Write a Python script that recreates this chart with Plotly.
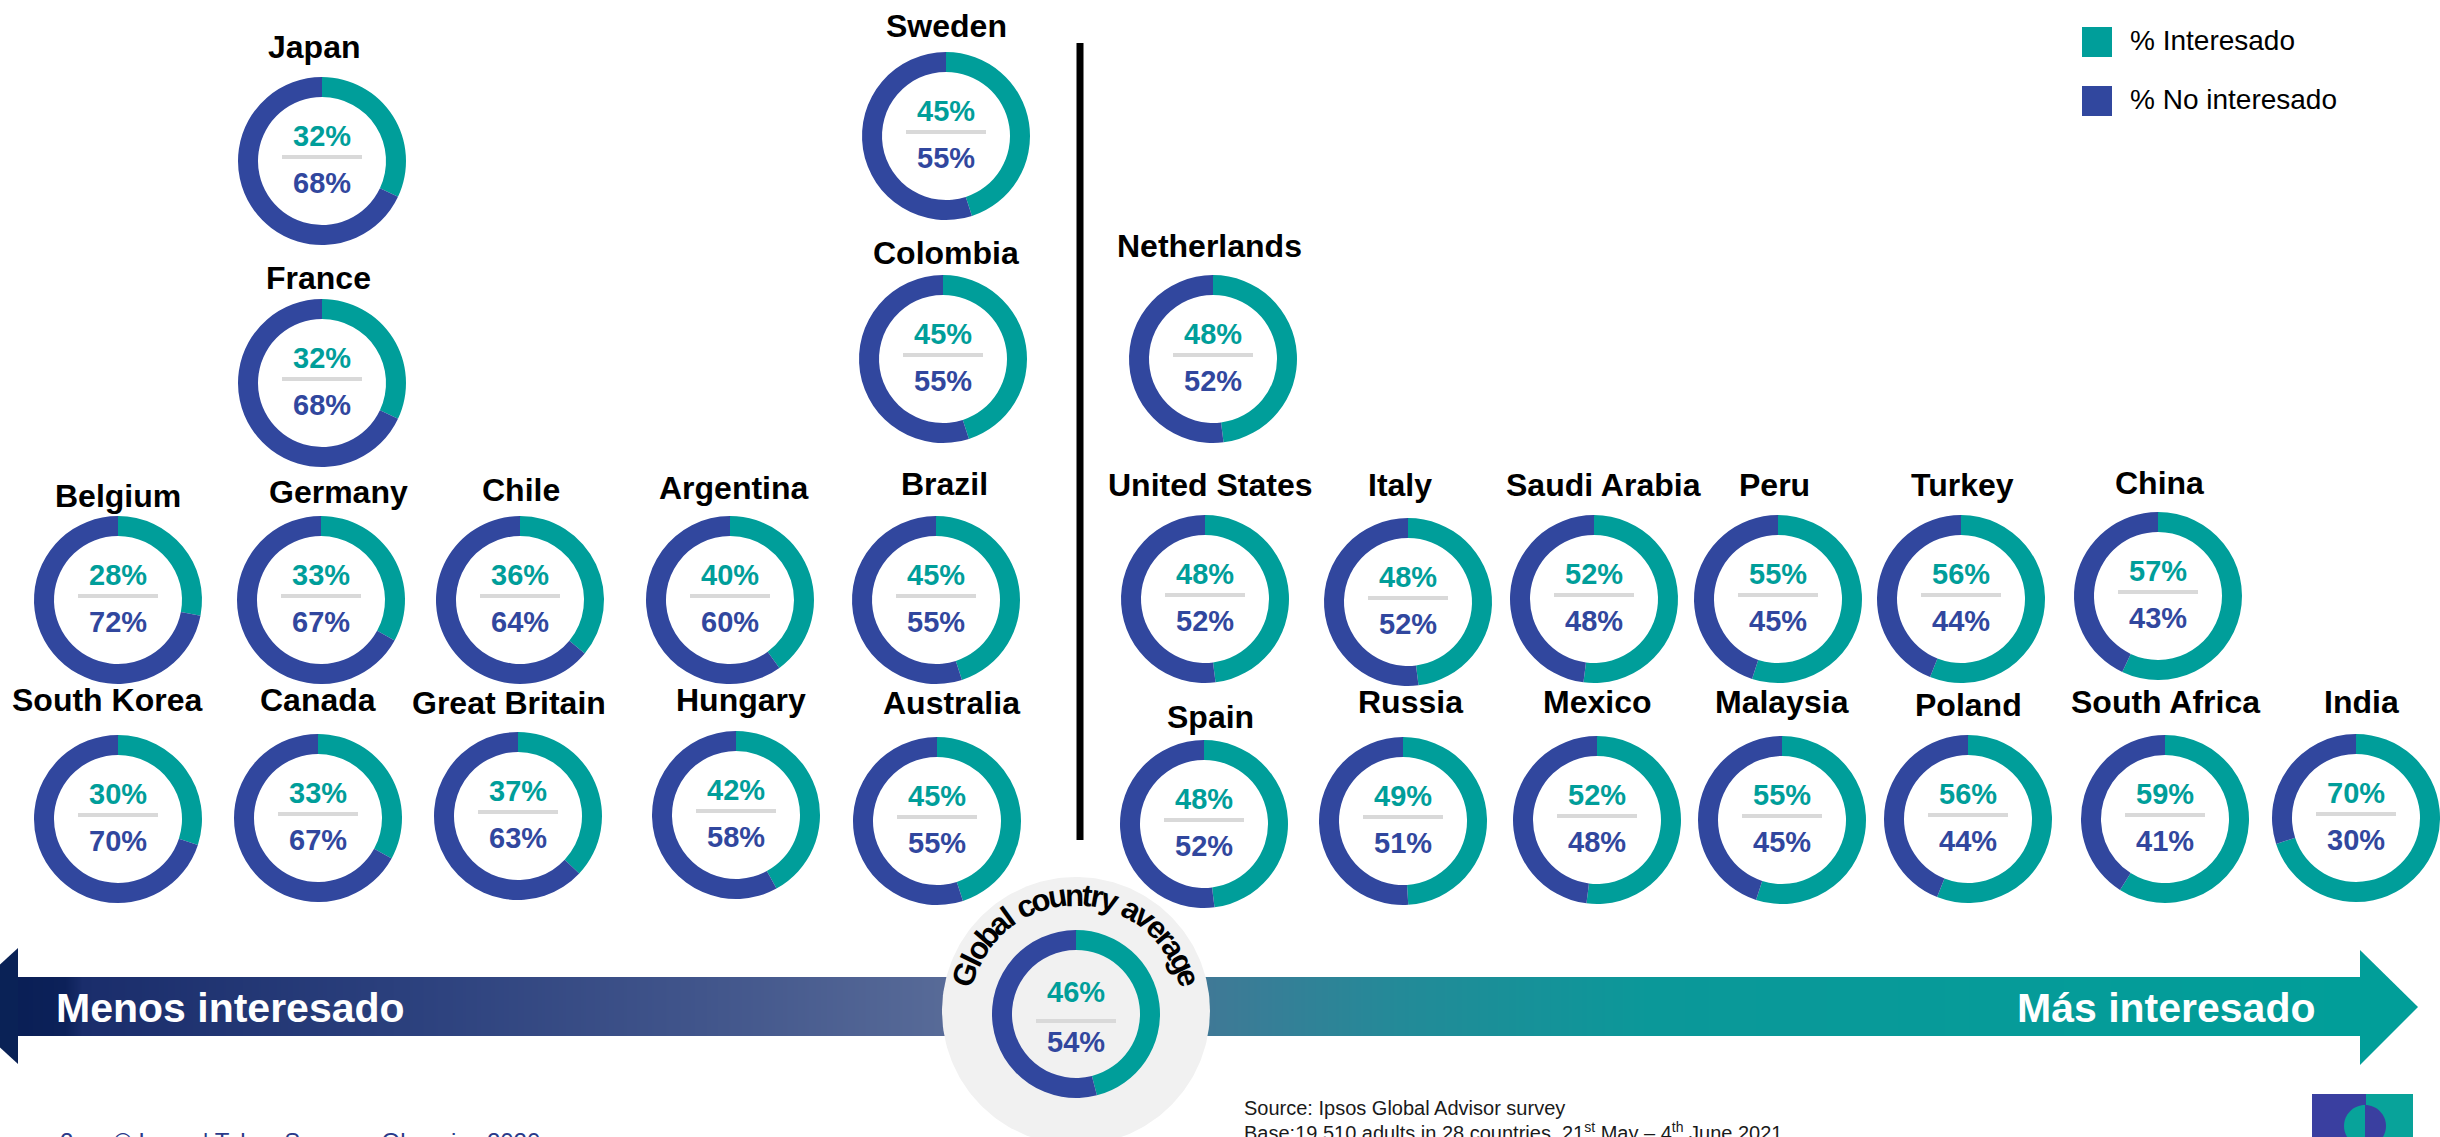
import math
import numpy as np
import plotly.graph_objects as go

# ---------------- data ----------------
countries = ["Japan", "France", "Sweden", "Colombia", "Netherlands",
             "Belgium", "Germany", "Chile", "Argentina", "Brazil",
             "United States", "Italy", "Saudi Arabia", "Peru", "Turkey", "China",
             "South Korea", "Canada", "Great Britain", "Hungary", "Australia",
             "Spain", "Russia", "Mexico", "Malaysia", "Poland", "South Africa", "India"]
interesado = [32, 32, 45, 45, 48,
              28, 33, 36, 40, 45,
              48, 48, 52, 55, 56, 57,
              30, 33, 37, 42, 45,
              48, 49, 52, 55, 56, 59, 70]
no_interesado = [68, 68, 55, 55, 52,
                 72, 67, 64, 60, 55,
                 52, 52, 48, 45, 44, 43,
                 70, 67, 63, 58, 55,
                 52, 51, 48, 45, 44, 41, 30]
global_label = "Global country average"
global_interesado = 46
global_no_interesado = 54
legend_labels = ["% Interesado", "% No interesado"]
arrow_left_text = "Menos interesado"
arrow_right_text = "Más interesado"
source_lines = ["Source: Ipsos Global Advisor survey",
                "Base:19,510 adults in 28 countries, 21<sup>st</sup> May – 4<sup>th</sup> June 2021"]
footer_text = "© Ipsos | Tokyo Summer Olympics 2020"

# ---------------- layout (pixel positions) ----------------
W, H = 2440, 1137
TEAL = "#009e9a"
NAVY = "#31479e"
R = 84
HOLE = 0.762
FONT = "Arial, Liberation Sans, sans-serif"

# donut centre (cx, cy) and label centre (lx, ly)
pos = {
    "Japan": (322, 161, 314, 47),
    "France": (322, 383, 318, 278),
    "Sweden": (946, 136, 946, 26),
    "Colombia": (943, 359, 946, 253),
    "Netherlands": (1213, 359, 1209, 246),
    "Belgium": (118, 600, 118, 496),
    "Germany": (321, 600, 338, 492),
    "Chile": (520, 600, 521, 490),
    "Argentina": (730, 600, 734, 488),
    "Brazil": (936, 600, 944, 484),
    "United States": (1205, 599, 1210, 485),
    "Italy": (1408, 602, 1400, 485),
    "Saudi Arabia": (1594, 599, 1603, 485),
    "Peru": (1778, 599, 1774, 485),
    "Turkey": (1961, 599, 1962, 485),
    "China": (2158, 596, 2159, 483),
    "South Korea": (118, 819, 107, 700),
    "Canada": (318, 818, 318, 700),
    "Great Britain": (518, 816, 509, 703),
    "Hungary": (736, 815, 741, 700),
    "Australia": (937, 821, 951, 703),
    "Spain": (1204, 824, 1210, 717),
    "Russia": (1403, 821, 1410, 702),
    "Mexico": (1597, 820, 1597, 702),
    "Malaysia": (1782, 820, 1782, 702),
    "Poland": (1968, 819, 1968, 705),
    "South Africa": (2165, 819, 2165, 702),
    "India": (2356, 818, 2361, 702),
}
GX, GY = 1076, 1014  # global donut centre

fig = go.Figure()

# ---- gradient arrow band (decoration) ----
band_x0, band_x1, band_y0, band_y1 = 18, 2362, 977, 1036
ncol = 400
edges = np.linspace(band_x0, band_x1, ncol + 1)
zrow = [list(np.linspace(0, 1, ncol))]


def frac(px):
    return (px - band_x0) / (band_x1 - band_x0)


cscale = [
    [0.0, "#0a1f56"],
    [frac(62), "#0c2159"],
    [frac(80), "#1a2d6b"],
    [frac(400), "#2b407d"],
    [frac(700), "#41558b"],
    [frac(950), "#586b98"],
    [frac(1076), "#566e99"],
    [frac(1210), "#3f7996"],
    [frac(1400), "#238a98"],
    [frac(1650), "#0b9899"],
    [1.0, "#019e99"],
]
fig.add_trace(go.Heatmap(x=edges, y=[band_y0, band_y1], z=zrow, colorscale=cscale,
                         showscale=False, hoverinfo="skip", zsmooth="best",
                         xaxis="x", yaxis="y"))

# grey disc behind global average
th = np.linspace(0, 2 * np.pi, 240)
fig.add_trace(go.Scatter(x=GX + 134 * np.cos(th), y=GY - 3 + 134 * np.sin(th),
                         mode="lines", fill="toself", fillcolor="#f1f1f1",
                         line=dict(width=0, color="#f1f1f1"), hoverinfo="skip",
                         showlegend=False))


def add_donut(cx, cy, vi, vn, name):
    fig.add_trace(go.Pie(
        values=[vi, vn], labels=legend_labels, name=name,
        marker=dict(colors=[TEAL, NAVY], line=dict(width=0)),
        hole=HOLE, sort=False, direction="clockwise", rotation=0,
        textinfo="none", showlegend=False,
        hovertemplate=name + "<br>%{label}: %{value}%<extra></extra>",
        domain=dict(x=[(cx - R) / W, (cx + R) / W],
                    y=[1 - (cy + R) / H, 1 - (cy - R) / H]),
    ))


shapes = []
annotations = []


def add_center_text(cx, cy, vi, vn, dt=-25, db=22, dl=-4):
    shapes.append(dict(type="line", xref="x", yref="y", x0=cx - 40, x1=cx + 40,
                       y0=cy + dl, y1=cy + dl, line=dict(color="#d9d9d9", width=4),
                       layer="above"))
    annotations.append(dict(x=cx, y=cy + dt, xref="x", yref="y", text=f"<b>{vi}%</b>",
                            showarrow=False, font=dict(family=FONT, size=29, color=TEAL),
                            xanchor="center", yanchor="middle"))
    annotations.append(dict(x=cx, y=cy + db, xref="x", yref="y", text=f"<b>{vn}%</b>",
                            showarrow=False, font=dict(family=FONT, size=29, color=NAVY),
                            xanchor="center", yanchor="middle"))


for c, vi, vn in zip(countries, interesado, no_interesado):
    cx, cy, lx, ly = pos[c]
    add_donut(cx, cy, vi, vn, c)
    add_center_text(cx, cy, vi, vn)
    annotations.append(dict(x=lx, y=ly, xref="x", yref="y", text=f"<b>{c}</b>",
                            showarrow=False, font=dict(family=FONT, size=32, color="#000000"),
                            xanchor="center", yanchor="middle"))

# global donut
add_donut(GX, GY, global_interesado, global_no_interesado, global_label)
add_center_text(GX, GY, global_interesado, global_no_interesado, dt=-22, db=28, dl=7)

# curved label around global donut
cw = {"G": .778, "l": .278, "o": .611, "b": .611, "a": .556, " ": .278, "c": .556,
      "u": .611, "n": .611, "t": .333, "r": .389, "y": .556, "v": .556, "e": .556, "g": .611}
fs = 31
rad = 117
start_deg, end_deg = 161, 17
adv = [cw.get(ch, .556) * fs for ch in global_label]
centers = []
s = 0
for i, a in enumerate(adv):
    centers.append(s + a / 2)
    s += a
span = centers[-1] - centers[0]
scale = math.radians(start_deg - end_deg) * rad / span
for ch, c0 in zip(global_label, centers):
    if ch == " ":
        continue
    ang = start_deg - math.degrees((c0 - centers[0]) * scale / rad)
    x = GX + rad * math.cos(math.radians(ang))
    y = GY - 2 - rad * math.sin(math.radians(ang))
    annotations.append(dict(x=x, y=y, xref="x", yref="y", text=f"<b>{ch}</b>",
                            showarrow=False, textangle=90 - ang,
                            font=dict(family=FONT, size=fs, color="#000000"),
                            xanchor="center", yanchor="middle"))

# arrow heads
shapes.append(dict(type="path", xref="x", yref="y", path="M 18 948 L 18 1064 L -45 1006 Z",
                   fillcolor="#0a2256", line=dict(width=0), layer="below"))
shapes.append(dict(type="path", xref="x", yref="y", path="M 2360 950 L 2360 1065 L 2418 1007 Z",
                   fillcolor="#019e99", line=dict(width=0), layer="below"))

annotations.append(dict(x=54, y=1008, xref="x", yref="y", text=f"<b>{arrow_left_text}</b>",
                        showarrow=False, font=dict(family=FONT, size=41, color="white"),
                        xanchor="left", yanchor="middle"))
annotations.append(dict(x=2318, y=1008, xref="x", yref="y", text=f"<b>{arrow_right_text}</b>",
                        showarrow=False, font=dict(family=FONT, size=41, color="white"),
                        xanchor="right", yanchor="middle"))

# vertical divider
shapes.append(dict(type="line", xref="x", yref="y", x0=1080, x1=1080, y0=43, y1=840,
                   line=dict(color="#000000", width=7), layer="above"))

# legend
for i, (lab, col) in enumerate(zip(legend_labels, [TEAL, NAVY])):
    y0 = 27 + i * 59
    shapes.append(dict(type="rect", xref="x", yref="y", x0=2082, x1=2112, y0=y0, y1=y0 + 30,
                       fillcolor=col, line=dict(width=0), layer="above"))
    annotations.append(dict(x=2128, y=y0 + 13, xref="x", yref="y", text=lab, showarrow=False,
                            font=dict(family=FONT, size=28, color="#000000"),
                            xanchor="left", yanchor="middle"))

# source
for i, line in enumerate(source_lines):
    annotations.append(dict(x=1242, y=1108 + i * 23, xref="x", yref="y", text=line,
                            showarrow=False, font=dict(family=FONT, size=20, color="#1a1a1a"),
                            xanchor="left", yanchor="middle"))

# footer (cut by the bottom edge, as in the original) - paper refs so it is not hidden
fy = 1 - 1141 / H
annotations.append(dict(x=58 / W, y=fy, xref="paper", yref="paper", text="2", showarrow=False,
                        font=dict(family=FONT, size=24, color="#2a3a8a"),
                        xanchor="left", yanchor="middle"))
annotations.append(dict(x=112 / W, y=fy, xref="paper", yref="paper", text=footer_text,
                        showarrow=False, font=dict(family=FONT, size=24, color="#2a3a8a"),
                        xanchor="left", yanchor="middle"))

# logo
shapes.append(dict(type="rect", xref="x", yref="y", x0=2312, x1=2366, y0=1094, y1=1200,
                   fillcolor="#3a3fa0", line=dict(width=0), layer="above"))
shapes.append(dict(type="rect", xref="x", yref="y", x0=2366, x1=2413, y0=1094, y1=1200,
                   fillcolor="#08a39a", line=dict(width=0), layer="above"))
lcx, lcy, lr = 2365, 1126, 21
k = 0.5523 * lr
shapes.append(dict(type="path", xref="x", yref="y",
                   path=(f"M {lcx} {lcy - lr} C {lcx - k} {lcy - lr} {lcx - lr} {lcy - k} {lcx - lr} {lcy} "
                         f"C {lcx - lr} {lcy + k} {lcx - k} {lcy + lr} {lcx} {lcy + lr} Z"),
                   fillcolor="#08a39a", line=dict(width=0), layer="above"))
shapes.append(dict(type="path", xref="x", yref="y",
                   path=(f"M {lcx} {lcy - lr} C {lcx + k} {lcy - lr} {lcx + lr} {lcy - k} {lcx + lr} {lcy} "
                         f"C {lcx + lr} {lcy + k} {lcx + k} {lcy + lr} {lcx} {lcy + lr} Z"),
                   fillcolor="#3a3fa0", line=dict(width=0), layer="above"))

fig.update_layout(
    width=W, height=H,
    margin=dict(l=0, r=0, t=0, b=0),
    paper_bgcolor="white", plot_bgcolor="white",
    xaxis=dict(range=[0, W], visible=False, fixedrange=True, domain=[0, 1]),
    yaxis=dict(range=[H, 0], visible=False, fixedrange=True, domain=[0, 1]),
    showlegend=False,
    shapes=shapes,
    annotations=annotations,
)

fig.write_html("out.html", config={"displayModeBar": False},
               post_script="document.body.style.margin='0px';document.body.style.overflow='hidden';")
